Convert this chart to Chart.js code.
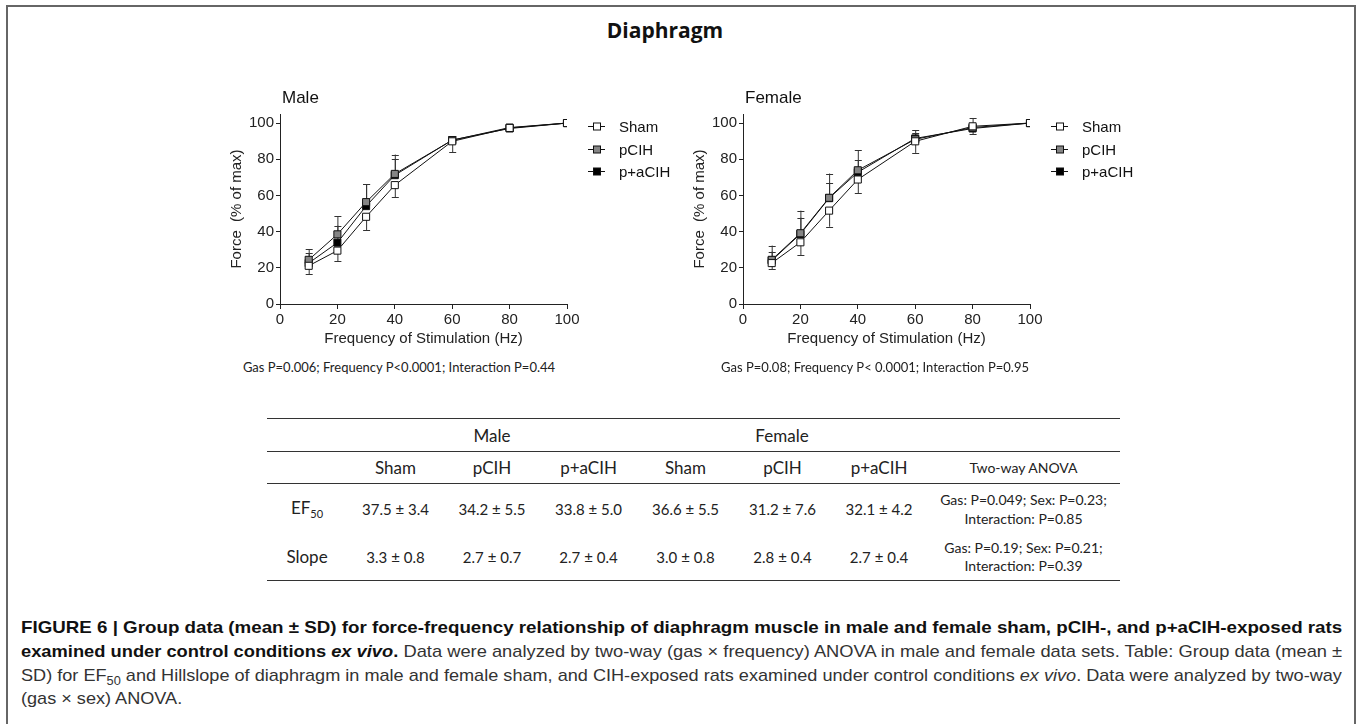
<!DOCTYPE html>
<html>
<head>
<meta charset="utf-8">
<script src="https://cdn.jsdelivr.net/npm/chart.js@4.4.1/dist/chart.umd.min.js"></script>
<style>
	body { margin: 0; width: 1357px; height: 724px; position: relative; overflow: hidden; background: #fff; font-family: "Liberation Sans", Arial, sans-serif; color: #222; }
	#frame { position: absolute; left: 6px; top: 5px; width: 1350px; height: 760px; border: 2px solid #666; border-bottom: none; box-sizing: border-box; }
	#title { position: absolute; left: 0; width: 1330px; top: 16px; text-align: center; font: 700 21px "Open Sans", sans-serif; color: #111; }
	canvas { position: absolute; }
	.stats { position: absolute; top: 359px; font: 13px Lato, sans-serif; color: #222; white-space: nowrap; transform: translateX(-50%); }
	#tbl { position: absolute; left: 267px; top: 418px; border-collapse: collapse; font-family: Lato, sans-serif; color: #222; }
	#tbl td { text-align: center; padding: 0; }
	#tbl tr.rule td { border-top: 1.5px solid #333; }
	#tbl tr.last td { border-bottom: 1.5px solid #333; }
	.cap { position: absolute; left: 21px; font-size: 17px; color: #333; white-space: nowrap; transform-origin: 0 50%; line-height: 20px; }
	.cap b { color: #111; }
</style>
</head>
<body>
<div id="frame"></div>
<div id="title">Diaphragm</div>
<canvas id="male" width="500" height="270" style="left:200px;top:80px"></canvas>
<canvas id="female" width="520" height="270" style="left:663px;top:80px"></canvas>
<div class="stats" id="maleStats" style="left:399px"></div>
<div class="stats" id="femaleStats" style="left:875px"></div>
<table id="tbl"></table>
<div class="cap" style="top:618px"><b>FIGURE 6 | Group data (mean ± SD) for force-frequency relationship of diaphragm muscle in male and female sham, pCIH-, and p+aCIH-exposed rats</b></div>
<div class="cap" style="top:642px"><b>examined under control conditions <i>ex vivo</i>.</b> Data were analyzed by two-way (gas × frequency) ANOVA in male and female data sets. Table: Group data (mean ±</div>
<div class="cap" style="top:666px">SD) for EF<sub style="font-size:12px">50</sub> and Hillslope of diaphragm in male and female sham, and CIH-exposed rats examined under control conditions <i>ex vivo</i>. Data were analyzed by two-way</div>
<div class="cap" style="top:689px">(gas × sex) ANOVA.</div>

<script>
const freqs = [10, 20, 30, 40, 60, 80, 100];
const seriesNames = ["Sham", "pCIH", "p+aCIH"];
const yTicks = [0, 20, 40, 60, 80, 100];

// male, mean and SD (% of max)
const maleSham = [21.1, 29.5, 48.2, 65.7, 89.9, 97.3, 100];
const maleShamSD = [4.6, 6.0, 7.3, 6.8, 6.0, 1.5, 0];
const malePCIH = [24.4, 38.5, 56.3, 71.9, 90.5, 97.5, 100];
const malePCIHSD = [6.0, 10.1, 10.0, 10.7, 2.3, 1.0, 0];
const malePACIH = [22.6, 33.9, 54.1, 71.2, 90.6, 97.0, 100];
const malePACIHSD = [5.4, 9.4, 12.0, 9.0, 2.0, 1.0, 0];

// female
const femaleSham = [22.6, 34.1, 51.6, 68.8, 89.9, 98.2, 100];
const femaleShamSD = [3.3, 7.0, 8.9, 7.7, 6.4, 4.4, 0];
const femalePCIH = [24.4, 39.1, 58.7, 73.9, 91.0, 97.5, 100];
const femalePCIHSD = [7.9, 12.5, 13.4, 11.1, 5.0, 5.3, 0];
const femalePACIH = [24.0, 38.7, 58.5, 72.8, 91.5, 97.0, 100];
const femalePACIHSD = [5.0, 9.0, 8.5, 6.7, 3.0, 1.5, 0];

const maleStats = "Gas P=0.006; Frequency P<0.0001; Interaction P=0.44";
const femaleStats = "Gas P=0.08; Frequency P< 0.0001; Interaction P=0.95";

const tableGroups = ["Male", "Female"];
const tableCols = ["Sham", "pCIH", "p+aCIH", "Sham", "pCIH", "p+aCIH"];
const ef50 = ["37.5 ± 3.4", "34.2 ± 5.5", "33.8 ± 5.0", "36.6 ± 5.5", "31.2 ± 7.6", "32.1 ± 4.2"];
const slope = ["3.3 ± 0.8", "2.7 ± 0.7", "2.7 ± 0.4", "3.0 ± 0.8", "2.8 ± 0.4", "2.7 ± 0.4"];
const anovaEF50 = ["Gas: P=0.049; Sex: P=0.23;", "Interaction: P=0.85"];
const anovaSlope = ["Gas: P=0.19; Sex: P=0.21;", "Interaction: P=0.39"];

const fills = ["#ffffff", "#858585", "#000000"];
const errDirs = [-1, 1, 1];
const ink = "#222";

Chart.defaults.font.family = "'Liberation Sans', Arial, sans-serif";
Chart.defaults.color = ink;

// error bars, one-sided like the original
const errorBars = {
	id: "errorBars",
	beforeDatasetsDraw(chart) {
		const ctx = chart.ctx;
		const xs = chart.scales.x, ys = chart.scales.y;
		ctx.save();
		ctx.strokeStyle = "#333";
		ctx.lineWidth = 1;
		chart.data.datasets.forEach((ds) => {
			ds.data.forEach((p, i) => {
				const sd = ds.sd[i];
				if (!sd) return;
				const x = xs.getPixelForValue(p.x);
				const y0 = ys.getPixelForValue(p.y);
				const y1 = ys.getPixelForValue(p.y + ds.dir * sd);
				ctx.beginPath();
				ctx.moveTo(x + 0.5, y0);
				ctx.lineTo(x + 0.5, y1);
				ctx.moveTo(x - 3, Math.round(y1) + 0.5);
				ctx.lineTo(x + 4, Math.round(y1) + 0.5);
				ctx.stroke();
			});
		});
		ctx.restore();
	},
};

// panel title and legend beside the plot
const sideLegend = {
	id: "sideLegend",
	afterDraw(chart, args, opts) {
		const ctx = chart.ctx;
		const area = chart.chartArea;
		ctx.save();
		ctx.fillStyle = "#111";
		ctx.font = "17px 'Liberation Sans', Arial, sans-serif";
		ctx.textBaseline = "middle";
		ctx.fillText(opts.title, area.left + 2, 18);
		ctx.font = "15px 'Liberation Sans', Arial, sans-serif";
		chart.data.datasets.forEach((ds, i) => {
			const y = Math.round(area.top + 12 + i * 22.7) + 0.5;
			const x0 = area.right + 21;
			ctx.strokeStyle = "#111";
			ctx.lineWidth = 1;
			ctx.beginPath();
			ctx.moveTo(x0, y);
			ctx.lineTo(x0 + 17, y);
			ctx.stroke();
			ctx.fillStyle = ds.pointBackgroundColor;
			ctx.fillRect(x0 + 5.5, y - 3.5, 7, 7);
			ctx.strokeRect(x0 + 5.5, y - 3.5, 7, 7);
			ctx.fillStyle = "#111";
			ctx.fillText(ds.label, area.right + 52, y + 1);
		});
		ctx.restore();
	},
};

function makeChart(id, title, means, sds, padRight) {
	const datasets = seriesNames.map((name, k) => ({
		label: name,
		data: freqs.map((f, i) => ({ x: f, y: means[k][i] })),
		sd: sds[k],
		dir: errDirs[k],
		borderColor: "#111",
		borderWidth: 1,
		pointStyle: "rect",
		pointRadius: 5,
		pointBackgroundColor: fills[k],
		pointBorderColor: "#111",
		pointBorderWidth: 1,
		tension: 0,
	}));

	return new Chart(document.getElementById(id).getContext("2d"), {
		type: "line",
		data: { datasets },
		plugins: [errorBars, sideLegend],
		options: {
			responsive: false,
			animation: false,
			layout: { padding: { left: 0, right: padRight, top: 34, bottom: 0 } },
			plugins: {
				legend: { display: false },
				tooltip: { enabled: false },
				sideLegend: { title },
			},
			scales: {
				x: {
					type: "linear",
					min: 0,
					max: 100,
					ticks: { stepSize: 20, font: { size: 15 }, color: ink, padding: 2, maxRotation: 0 },
					grid: { drawOnChartArea: false, drawTicks: true, tickLength: 5, tickColor: ink },
					border: { display: true, color: ink, width: 1 },
					title: { display: true, text: "Frequency of Stimulation (Hz)", font: { size: 15 }, color: ink, padding: { top: 0, bottom: 2 } },
					afterFit: (s) => { s.height = 46; },
				},
				y: {
					min: 0,
					max: 105,
					afterBuildTicks: (s) => { s.ticks = yTicks.map((v) => ({ value: v })); },
					ticks: { font: { size: 15 }, color: ink, padding: 2 },
					grid: { drawOnChartArea: false, drawTicks: true, tickLength: 4, tickColor: ink },
					border: { display: true, color: ink, width: 1 },
					title: { display: true, text: "Force  (% of max)", font: { size: 15 }, color: ink, padding: { top: 28, bottom: 0 } },
					afterFit: (s) => { s.width = 80; },
				},
			},
		},
	});
}

makeChart("male", "Male", [maleSham, malePCIH, malePACIH], [maleShamSD, malePCIHSD, malePACIHSD], 133);
makeChart("female", "Female", [femaleSham, femalePCIH, femalePACIH], [femaleShamSD, femalePCIHSD, femalePACIHSD], 153);

document.getElementById("maleStats").textContent = maleStats;
document.getElementById("femaleStats").textContent = femaleStats;

// table
const colW = [80, 97, 96, 97, 97, 97, 96, 193];
const tbl = document.getElementById("tbl");
let html = "<colgroup>" + colW.map((w) => `<col style="width:${w}px">`).join("") + "</colgroup>";
html += `<tr class="rule" style="height:33px;font-size:17px"><td></td><td colspan="3">${tableGroups[0]}</td><td colspan="3">${tableGroups[1]}</td><td></td></tr>`;
html += `<tr class="rule" style="height:32px;font-size:17px"><td></td>${tableCols.map((c) => `<td>${c}</td>`).join("")}<td style="font-size:14px">Two-way ANOVA</td></tr>`;
html += `<tr class="rule" style="height:50px;font-size:15px"><td style="font-size:17px">EF<sub style="font-size:11px">50</sub></td>${ef50.map((c) => `<td>${c}</td>`).join("")}<td style="font-size:14px;line-height:19px">${anovaEF50.join("<br>")}</td></tr>`;
html += `<tr class="last" style="height:47px;font-size:15px"><td style="font-size:17px">Slope</td>${slope.map((c) => `<td>${c}</td>`).join("")}<td style="font-size:14px;line-height:18px">${anovaSlope.join("<br>")}</td></tr>`;
tbl.innerHTML = html;

// fit caption lines to the column width, like the condensed journal face
const caps = document.querySelectorAll(".cap");
let lastScale = 1;
caps.forEach((el, i) => {
	if (i < caps.length - 1) {
		lastScale = 1321 / el.scrollWidth;
	}
	el.style.transform = `scaleX(${lastScale})`;
});
</script>
</body>
</html>
